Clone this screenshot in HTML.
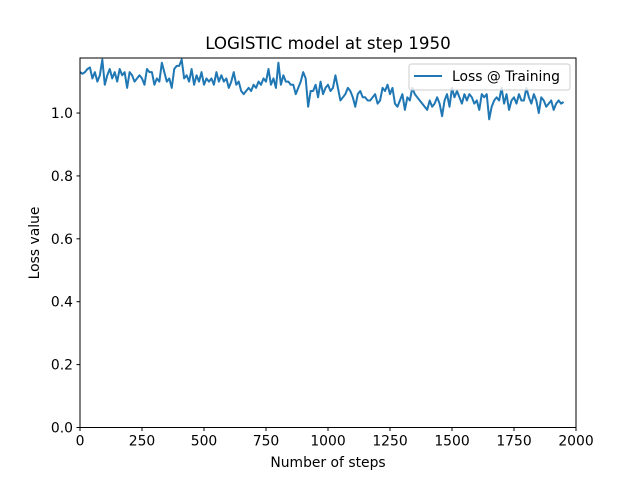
<!DOCTYPE html>
<html><head><meta charset="utf-8"><style>
body{margin:0;background:#fff}
svg{display:block;font-family:"DejaVu Sans","Liberation Sans",sans-serif}
</style></head><body>
<svg id="chart" width="640" height="480">
<rect width="640" height="480" fill="#fff"/>
<g id="plot"></g>
</svg>
<script>
const xTicks=[0,250,500,750,1000,1250,1500,1750,2000];
const yTicks=[0.0,0.2,0.4,0.6,0.8,1.0];
const yTickLabels=["0.0","0.2","0.4","0.6","0.8","1.0"];
const stepSize=10;
const lossValues=[
1.13,1.125,1.13,1.14,1.145,1.11,1.13,1.10,1.12,1.17,
1.09,1.12,1.14,1.11,1.13,1.10,1.14,1.12,1.13,1.08,
1.13,1.12,1.10,1.11,1.12,1.11,1.09,1.14,1.13,1.13,
1.09,1.11,1.10,1.16,1.13,1.10,1.11,1.08,1.14,1.15,
1.15,1.17,1.11,1.12,1.10,1.14,1.09,1.12,1.10,1.13,
1.09,1.11,1.10,1.11,1.09,1.13,1.10,1.12,1.10,1.11,
1.08,1.10,1.13,1.09,1.10,1.07,1.06,1.07,1.08,1.07,
1.09,1.08,1.10,1.09,1.11,1.10,1.14,1.09,1.11,1.08,
1.16,1.09,1.12,1.10,1.10,1.09,1.09,1.06,1.08,1.10,
1.13,1.11,1.02,1.07,1.07,1.09,1.05,1.10,1.06,1.08,
1.09,1.07,1.08,1.12,1.08,1.04,1.05,1.06,1.08,1.07,
1.05,1.02,1.06,1.07,1.05,1.05,1.04,1.04,1.05,1.06,
1.03,1.04,1.08,1.07,1.09,1.06,1.08,1.03,1.02,1.04,
1.06,1.01,1.05,1.04,1.08,1.06,1.05,1.04,1.03,1.02,
1.01,1.04,1.02,1.03,1.05,1.03,0.99,1.04,1.06,1.02,
1.08,1.05,1.07,1.05,1.03,1.06,1.04,1.06,1.05,1.03,
1.04,1.01,1.06,1.05,1.06,0.98,1.02,1.04,1.05,1.04,
1.08,1.03,1.06,1.01,1.04,1.05,1.03,1.06,1.04,1.04,
1.08,1.05,1.03,1.06,1.04,1.00,1.05,1.04,1.02,1.03,
1.04,1.01,1.03,1.04,1.03,1.035];
const L=80,R=576,T=58,B=427.5,XMAX=2000,YMAX=1.175;
const sx=v=>L+(v/XMAX)*(R-L);
const sy=v=>B-(v/YMAX)*(B-T);
const NS="http://www.w3.org/2000/svg";
const g=document.getElementById('plot');
function mk(tag,attrs,txt){const e=document.createElementNS(NS,tag);for(const k in attrs)e.setAttribute(k,attrs[k]);if(txt!==undefined)e.textContent=txt;g.appendChild(e);return e;}
let d=lossValues.map((v,i)=>(i?'L':'M')+sx(i*stepSize).toFixed(2)+','+sy(v).toFixed(2)).join(' ');
const clip=mk('clipPath',{id:'cp'});const cr=document.createElementNS(NS,'rect');cr.setAttribute('x',L);cr.setAttribute('y',T);cr.setAttribute('width',R-L);cr.setAttribute('height',B-T);clip.appendChild(cr);
const line=mk('path',{d:d,fill:'none',stroke:'#1f77b4','stroke-width':2,'stroke-linejoin':'round','clip-path':'url(#cp)'});


const fr=mk('rect',{x:L,y:T,width:R-L,height:B-T,fill:'none',stroke:'#000','stroke-width':1});


xTicks.forEach(t=>{const x=sx(t);mk('line',{x1:x,x2:x,y1:B,y2:B+3.5,stroke:'#000','stroke-width':1});
const tl=mk('text',{x:x,y:B+18,'text-anchor':'middle','font-size':13.9},String(t));

});
yTicks.forEach((t,i)=>{const y=sy(t);mk('line',{x1:L-3.5,x2:L,y1:y,y2:y,stroke:'#000','stroke-width':1});
const tl=mk('text',{x:L-7,y:y+5,'text-anchor':'end','font-size':13.9},yTickLabels[i]);

});
const title=mk('text',{x:328,y:49,'text-anchor':'middle','font-size':16.7},'LOGISTIC model at step 1950');


const xl=mk('text',{x:328,y:467,'text-anchor':'middle','font-size':13.9},'Number of steps');


const yl=mk('text',{x:0,y:0,'text-anchor':'middle','font-size':13.9,transform:'translate(39,243) rotate(-90)'},'Loss value');


const lg=mk('rect',{x:409,y:64,width:161,height:26,rx:2.5,fill:'#fff','fill-opacity':0.8,stroke:'#ccc','stroke-width':1});


mk('line',{x1:414,x2:442,y1:76,y2:76,stroke:'#1f77b4','stroke-width':2});
const le=mk('text',{x:452,y:81,'font-size':13.9},'Loss @ Training');


</script>
</body></html>
